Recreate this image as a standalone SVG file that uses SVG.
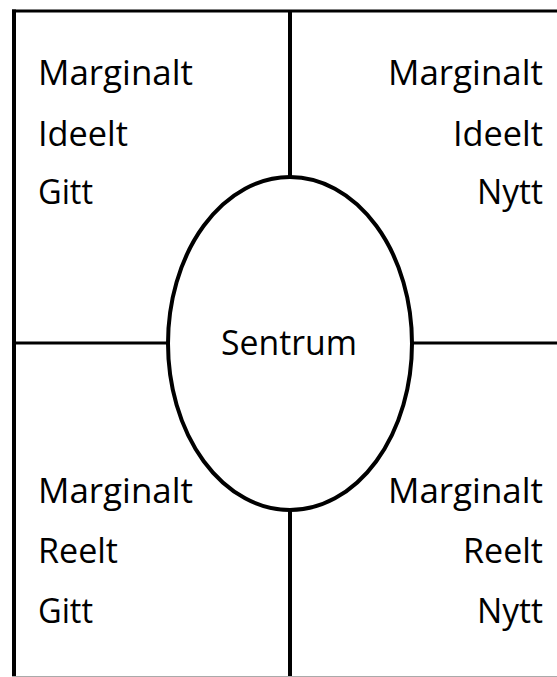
<svg xmlns="http://www.w3.org/2000/svg" width="557" height="677" viewBox="0 0 557 677">
<style>
.t{font-family:"Open Sans","Liberation Sans",sans-serif;font-size:34px;fill:#000}
.v{stroke:#000;stroke-width:4;fill:none}
.h{stroke:#000;stroke-width:3;fill:none}
</style>
<rect width="557" height="677" fill="#fff"/>
<g id="connectors">
<line class="v" x1="14" y1="9.5" x2="14" y2="677"/>
<line class="h" x1="12" y1="11" x2="557" y2="11"/>
<line class="v" x1="290" y1="11" x2="290" y2="677"/>
<line class="h" x1="14" y1="343" x2="557" y2="343"/>
<line x1="12" y1="676.5" x2="557" y2="676.5" stroke="#aaa" stroke-width="1"/>
</g>
<g id="center">
<ellipse cx="290" cy="343.5" rx="122" ry="166.5" fill="#fff" stroke="#000" stroke-width="4"/>
<text class="t" x="221" y="355" textLength="136" lengthAdjust="spacingAndGlyphs">Sentrum</text>
</g>
<g id="top-left">
<text class="t" x="38" y="85" textLength="155" lengthAdjust="spacingAndGlyphs">Marginalt</text>
<text class="t" x="38" y="145.5" textLength="90" lengthAdjust="spacingAndGlyphs">Ideelt</text>
<text class="t" x="38" y="204" textLength="55" lengthAdjust="spacingAndGlyphs">Gitt</text>
</g>
<g id="top-right">
<text class="t" x="388" y="85" textLength="155" lengthAdjust="spacingAndGlyphs">Marginalt</text>
<text class="t" x="453" y="145.5" textLength="90" lengthAdjust="spacingAndGlyphs">Ideelt</text>
<text class="t" x="477" y="204" textLength="66" lengthAdjust="spacingAndGlyphs">Nytt</text>
</g>
<g id="bottom-left">
<text class="t" x="38" y="503" textLength="155" lengthAdjust="spacingAndGlyphs">Marginalt</text>
<text class="t" x="38" y="563" textLength="80" lengthAdjust="spacingAndGlyphs">Reelt</text>
<text class="t" x="38" y="623" textLength="55" lengthAdjust="spacingAndGlyphs">Gitt</text>
</g>
<g id="bottom-right">
<text class="t" x="388" y="503" textLength="155" lengthAdjust="spacingAndGlyphs">Marginalt</text>
<text class="t" x="463" y="563" textLength="80" lengthAdjust="spacingAndGlyphs">Reelt</text>
<text class="t" x="477" y="623" textLength="66" lengthAdjust="spacingAndGlyphs">Nytt</text>
</g>
</svg>
